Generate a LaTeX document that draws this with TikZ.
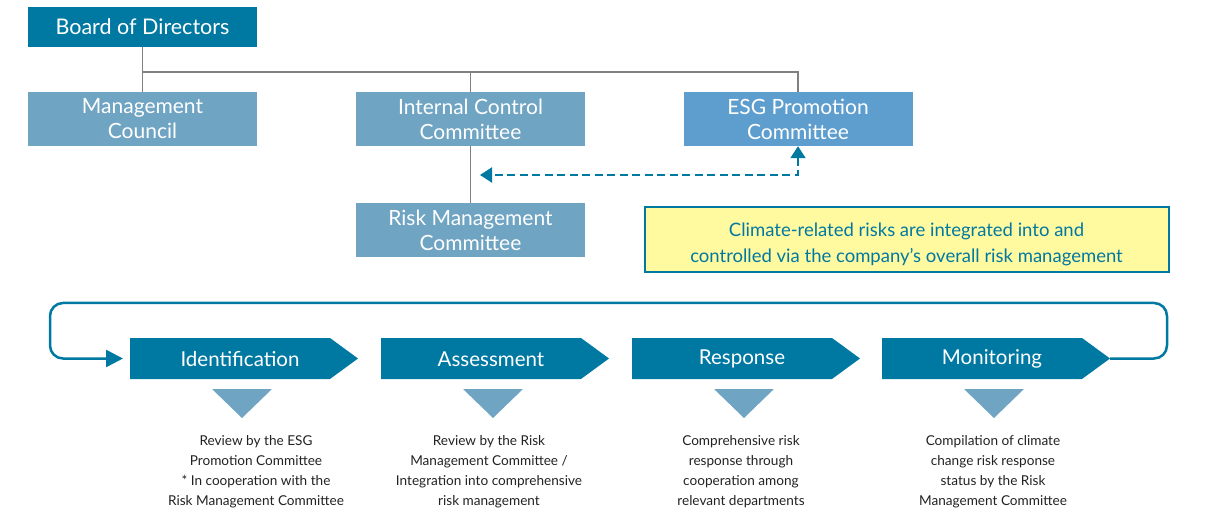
\documentclass[tikz,border=0pt]{standalone}
\usepackage{fontspec}
\setmainfont{Lato}
\usetikzlibrary{arrows.meta}
\definecolor{dteal}{HTML}{0079A2}
\definecolor{lblue}{HTML}{6FA4C3}
\definecolor{eblue}{HTML}{5E9ECF}
\definecolor{ylw}{HTML}{FFF9A0}
\definecolor{gline}{HTML}{808080}
\definecolor{txt}{HTML}{222222}
\begin{document}
\begin{tikzpicture}[x=1pt,y=-1pt,
  board/.style={fill=dteal,text=white,minimum width=229pt,minimum height=40pt,inner sep=0pt,font=\fontsize{21.5}{24}\selectfont},
  comm/.style={fill=lblue,text=white,minimum width=229pt,minimum height=54pt,inner sep=0pt,align=center,font=\fontsize{21}{25}\selectfont},
  orgline/.style={draw=gline,line width=1.3pt},
  chev/.style={fill=dteal},
  chevtext/.style={text=white,font=\fontsize{20.5}{23}\selectfont},
  tri/.style={fill=lblue},
  desc/.style={text=txt,align=center,font=\fontsize{13.6}{20}\selectfont},
  loopline/.style={draw=dteal,line width=2.5pt,rounded corners=13pt}]
\useasboundingbox (0,0) rectangle (1227,513);
% org chart
\node[board] (bod) at (142.5,27) {Board of Directors};
\node[comm] (mc) at (142.5,119) {Management\\Council};
\node[comm] (icc) at (470.5,119) {Internal Control\\Committee};
\node[comm,fill=eblue] (esg) at (798,119) {ESG Promotion\\Committee};
\node[comm] (rmc) at (470.5,230) {Risk Management\\Committee};
\coordinate (j1) at (142.5,72);
\draw[orgline] (bod.south) -- (mc.north);
\draw[orgline] (j1) -| (icc.north);
\draw[orgline] (j1) -| (esg.north);
\draw[orgline] (icc.south) -- (rmc.north);
\coordinate (dl) at (480,175);
\draw[draw=dteal,line width=2pt,dash pattern=on 8pt off 4.5pt,{Triangle[length=12pt,width=15pt]}-{Triangle[length=12pt,width=15pt]}]
  (esg.south) |- (dl);
% yellow box
\node[fill=ylw,draw=dteal,line width=2pt,minimum width=524pt,minimum height=65pt] (ybox) at (906.5,240) {};
\node[align=center,text=dteal,font=\fontsize{18.5}{26}\selectfont] (ytext) at ([yshift=-4pt]ybox.center)
  {Climate-related risks are integrated into and\\controlled via the company's overall risk management};
% chevrons
\foreach \n/\x/\t in {id/130/Identification,as/381/Assessment,re/632/Response,mo/882/Monitoring}{
  \fill[chev] (\x,338) -- (\x+200,338) -- (\x+228,358.5) -- (\x+200,379) -- (\x,379) -- cycle;
  \node[chevtext] (\n) at (\x+110,359) {\t};
  \fill[tri] (\x+82,389) -- (\x+142,389) -- (\x+112,418) -- cycle;
}
\coordinate (motip) at (1110,358.5);
\coordinate (idin) at (123,358.5);
\draw[loopline,-{Triangle[length=17pt,width=17pt]}] (motip) -- (1167,358.5) -- (1167,303) -- (50,303) -- (50,358.5) -- (idin);
% descriptions
\node[desc] (d1) at (256,472) {Review by the ESG\\Promotion Committee\\* In cooperation with the\\Risk Management Committee};
\node[desc] (d2) at (489,472) {Review by the Risk\\Management Committee /\\Integration into comprehensive\\risk management};
\node[desc] (d3) at (741,472) {Comprehensive risk\\response through\\cooperation among\\relevant departments};
\node[desc] (d4) at (993,472) {Compilation of climate\\change risk response\\status by the Risk\\Management Committee};
\end{tikzpicture}
\end{document}
